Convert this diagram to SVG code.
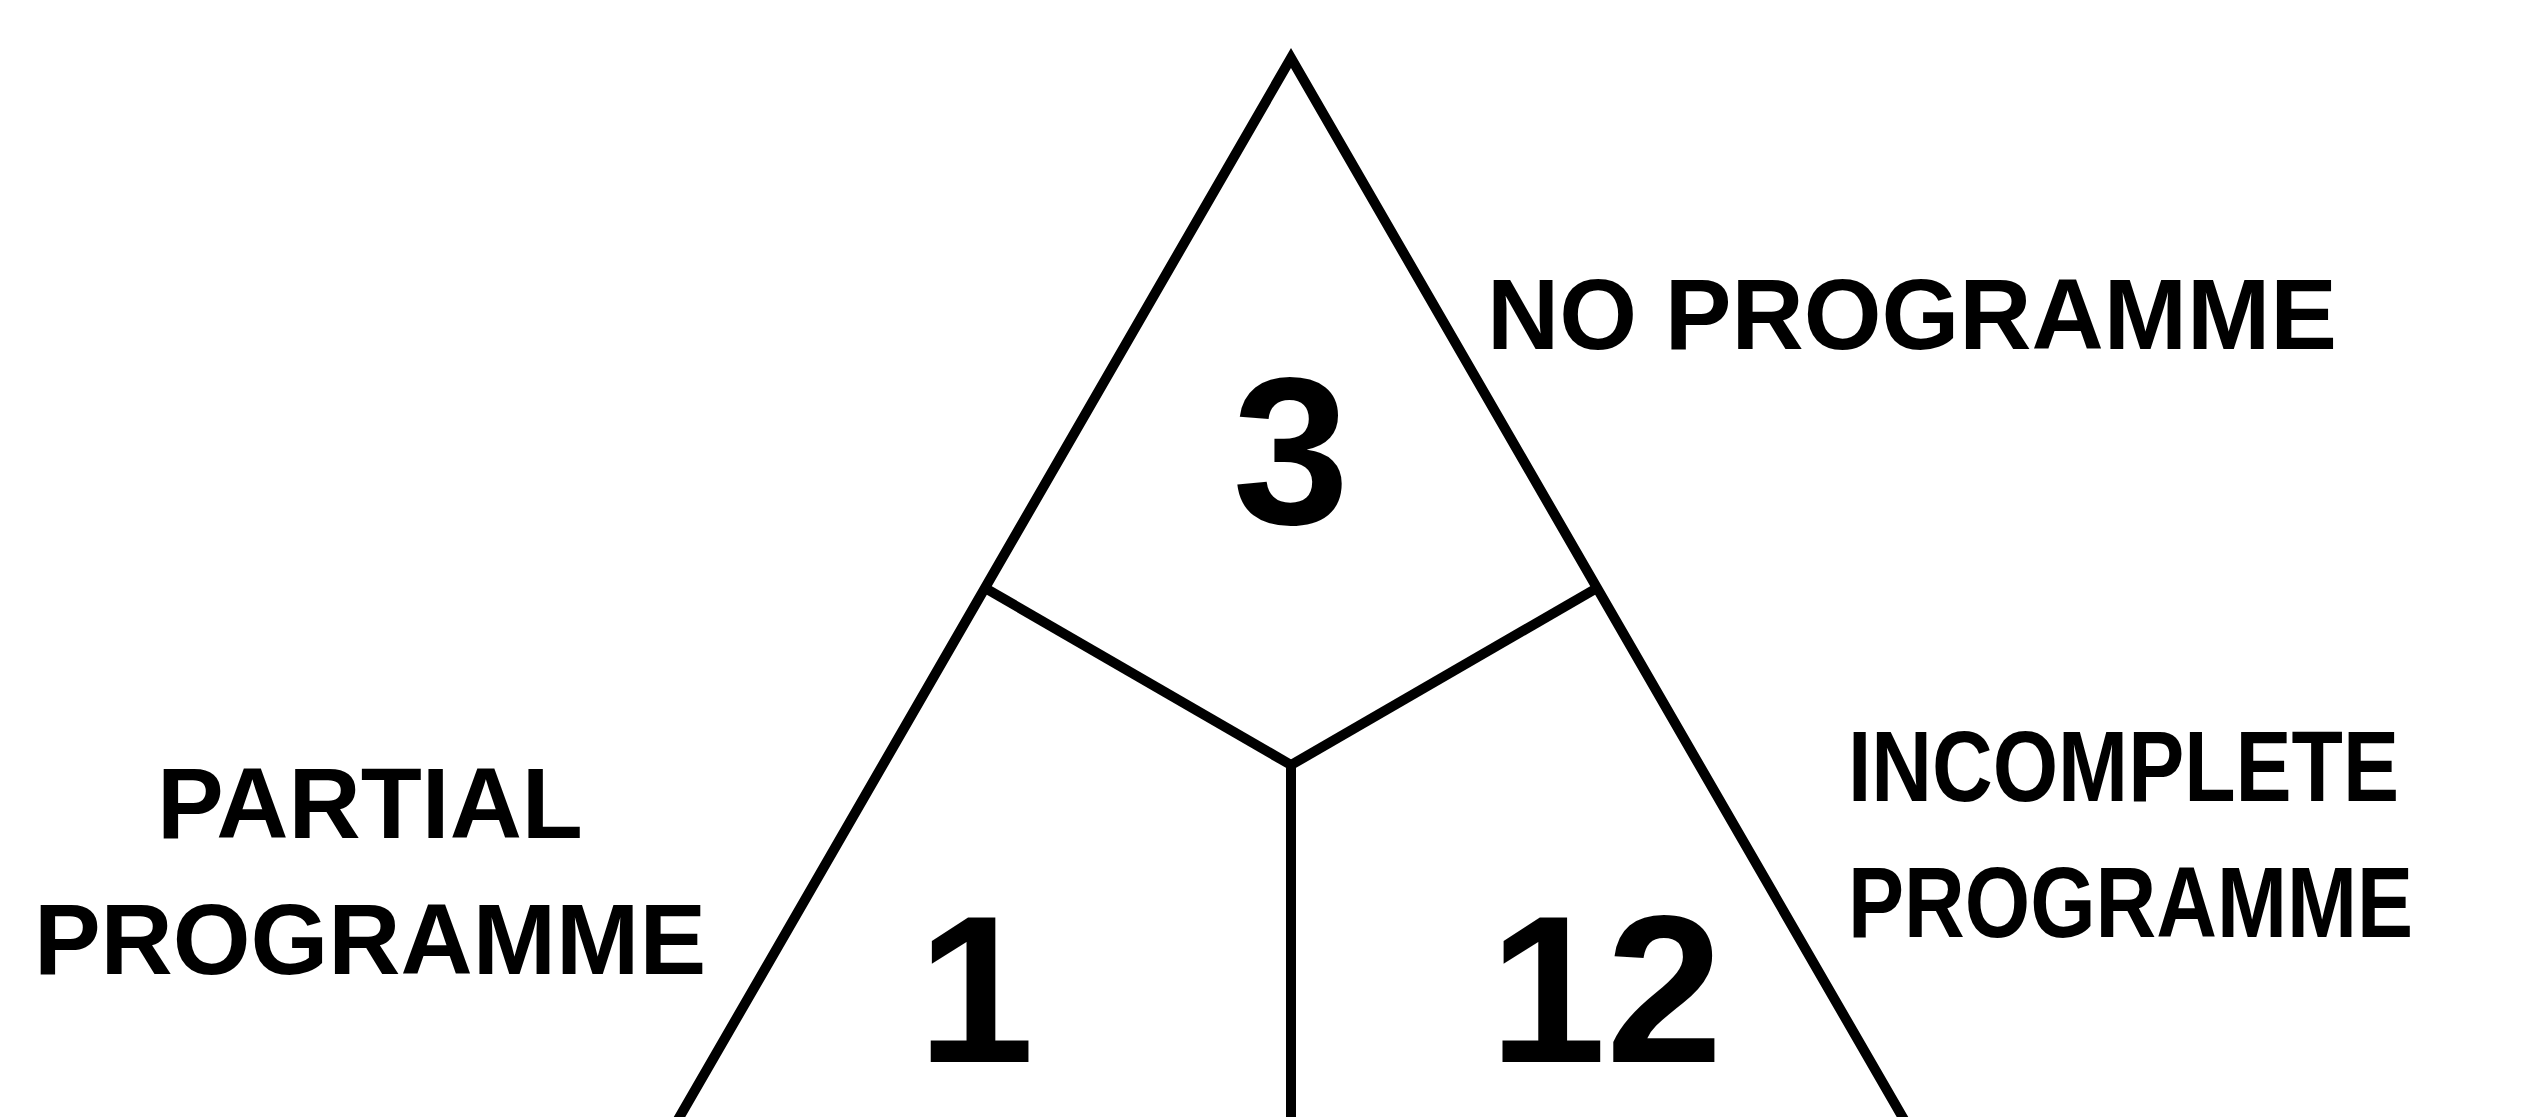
<svg xmlns="http://www.w3.org/2000/svg" width="2534" height="1117" viewBox="0 0 2534 1117">
<style>
.ln{stroke:#000;stroke-width:10;fill:none;stroke-linejoin:miter;stroke-linecap:butt}
.lbl{font-family:"Liberation Sans",Arial,sans-serif;font-weight:bold;font-size:100px;fill:#000}
.num{font-family:"Liberation Sans",Arial,sans-serif;font-weight:bold;font-size:210px;fill:#000;text-anchor:middle}
</style>
<rect width="2534" height="1117" fill="#fff"/>
<g id="connectors">
<path class="ln" d="M672,1130 L1291,58 L1910,1130"/>
<line class="ln" x1="985" y1="588" x2="1291" y2="765"/>
<line class="ln" x1="1597" y1="588" x2="1291" y2="765"/>
<line class="ln" x1="1291" y1="765" x2="1291" y2="1130"/>
</g>
<g id="no-programme">
<text class="num" x="1291" y="524">3</text>
<text class="lbl" x="1912" y="349" text-anchor="middle">NO PROGRAMME</text>
</g>
<g id="partial-programme">
<text class="num" x="976" y="1062">1</text>
<text class="lbl" x="370" y="838" text-anchor="middle">PARTIAL</text>
<text class="lbl" x="370" y="974" text-anchor="middle">PROGRAMME</text>
</g>
<g id="incomplete-programme">
<text class="num" x="1606" y="1062">12</text>
<text class="lbl" x="1848" y="801" textLength="551" lengthAdjust="spacingAndGlyphs">INCOMPLETE</text>
<text class="lbl" x="1848" y="937" textLength="565" lengthAdjust="spacingAndGlyphs">PROGRAMME</text>
</g>
</svg>
